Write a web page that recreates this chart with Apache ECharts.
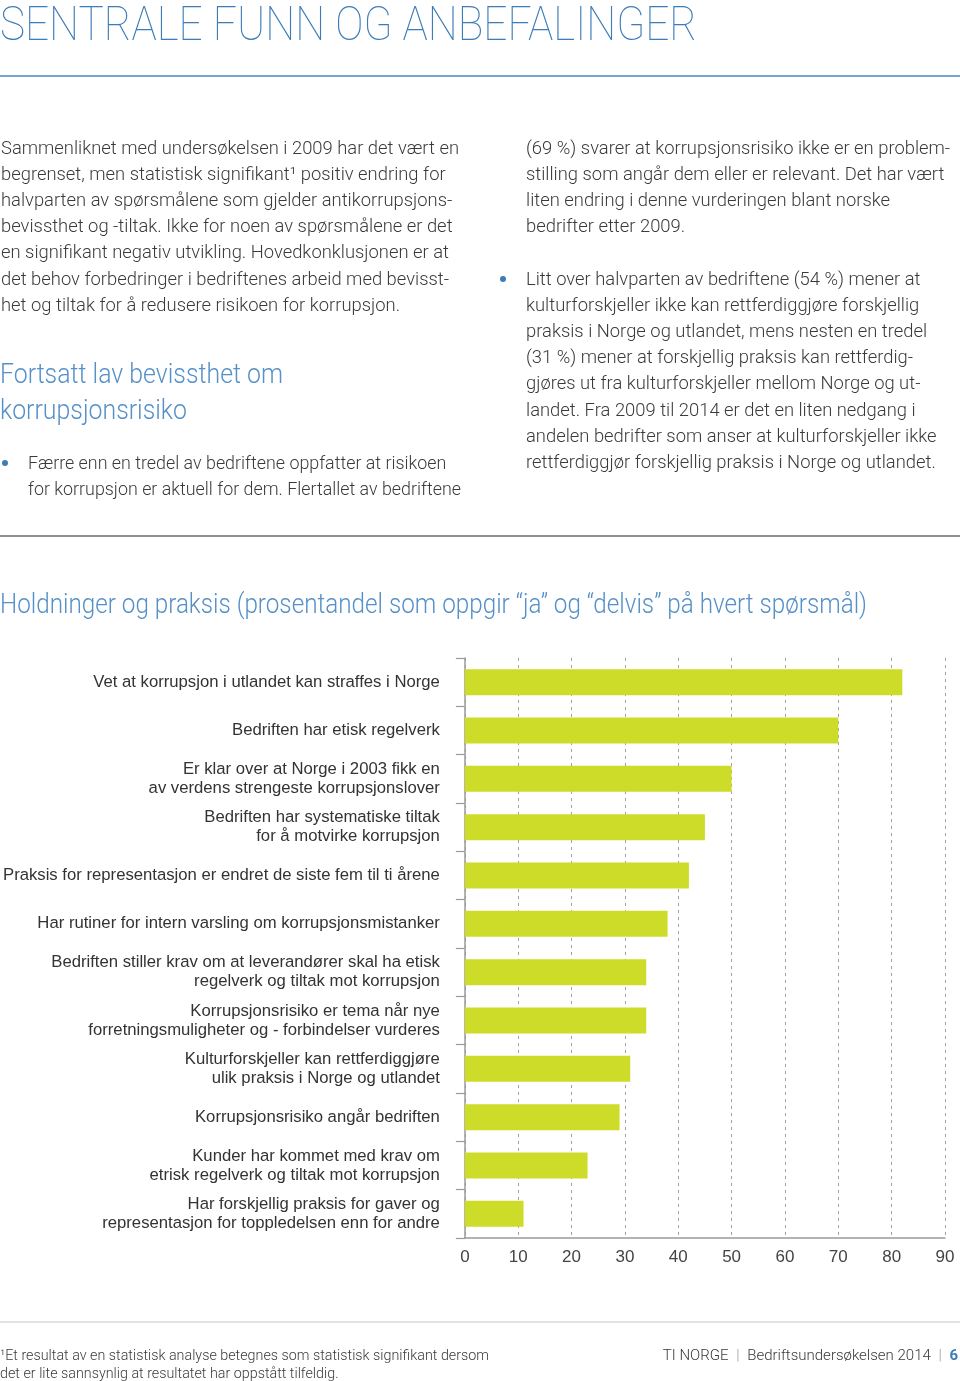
<!DOCTYPE html>
<html><head><meta charset="utf-8">
<script src="https://cdn.jsdelivr.net/npm/echarts@6/dist/echarts.min.js"></script>
<style>html,body{margin:0;padding:0;background:#fff}#c{width:960px;height:1381px}</style>
</head><body><div id="c"></div>
<script>
// ---- chart data ----
const categories = [
  'Vet at korrupsjon i utlandet kan straffes i Norge',
  'Bedriften har etisk regelverk',
  'Er klar over at Norge i 2003 fikk en\nav verdens strengeste korrupsjonslover',
  'Bedriften har systematiske tiltak\nfor å motvirke korrupsjon',
  'Praksis for representasjon er endret de siste fem til ti årene',
  'Har rutiner for intern varsling om korrupsjonsmistanker',
  'Bedriften stiller krav om at leverandører skal ha etisk\nregelverk og tiltak mot korrupsjon',
  'Korrupsjonsrisiko er tema når nye\nforretningsmuligheter og - forbindelser vurderes',
  'Kulturforskjeller kan rettferdiggjøre\nulik praksis i Norge og utlandet',
  'Korrupsjonsrisiko angår bedriften',
  'Kunder har kommet med krav om\netrisk regelverk og tiltak mot korrupsjon',
  'Har forskjellig praksis for gaver og\nrepresentasjon for toppledelsen enn for andre'
];
const values = [82, 70, 50, 45, 42, 38, 34, 34, 31, 29, 23, 11];
const axisMin = 0, axisMax = 90, axisStep = 10;

// ---- page text ----
const pageTitle = 'SENTRALE FUNN OG ANBEFALINGER';
const leftPara = [
  'Sammenliknet med undersøkelsen i 2009 har det vært en',
  'begrenset, men statistisk signifikant¹ positiv endring for',
  'halvparten av spørsmålene som gjelder antikorrupsjons-',
  'bevissthet og -tiltak. Ikke for noen av spørsmålene er det',
  'en signifikant negativ utvikling. Hovedkonklusjonen er at',
  'det behov forbedringer i bedriftenes arbeid med bevisst-',
  'het og tiltak for å redusere risikoen for korrupsjon.'
];
const subHead = ['Fortsatt lav bevissthet om', 'korrupsjonsrisiko'];
const leftBullet = [
  'Færre enn en tredel av bedriftene oppfatter at risikoen',
  'for korrupsjon er aktuell for dem. Flertallet av bedriftene'
];
const rightPara = [
  '(69 %) svarer at korrupsjonsrisiko ikke er en problem-',
  'stilling som angår dem eller er relevant. Det har vært',
  'liten endring i denne vurderingen blant norske',
  'bedrifter etter 2009.'
];
const rightBullet = [
  'Litt over halvparten av bedriftene (54 %) mener at',
  'kulturforskjeller ikke kan rettferdiggjøre forskjellig',
  'praksis i Norge og utlandet, mens nesten en tredel',
  '(31 %) mener at forskjellig praksis kan rettferdig-',
  'gjøres ut fra kulturforskjeller mellom Norge og ut-',
  'landet. Fra 2009 til 2014 er det en liten nedgang i',
  'andelen bedrifter som anser at kulturforskjeller ikke',
  'rettferdiggjør forskjellig praksis i Norge og utlandet.'
];
const chartTitle = 'Holdninger og praksis (prosentandel som oppgir \u201cja\u201d og \u201cdelvis\u201d på hvert spørsmål)';
const footnote = [
  '¹Et resultat av en statistisk analyse betegnes som statistisk signifikant dersom',
  'det er lite sannsynlig at resultatet har oppstått tilfeldig.'
];

// ---- helpers ----
const mctx = document.createElement('canvas').getContext('2d');
function tw(text, font) { mctx.font = font; return mctx.measureText(text).width; }

const BLUE = '#3d7cb8';
const LBLUE = '#5590c8';
const TXT = '#3a3a3a';
const bodyFont = '300 18px Roboto, "Liberation Sans", sans-serif';
const bodySX = 458 / tw(leftPara[0], bodyFont);
const bulletScale = (461 - 28) / tw(leftBullet[1], bodyFont);
const titleFont = '100 48px Roboto, "Open Sans", sans-serif';
const titleSX = 697 / tw(pageTitle, titleFont);
const subFont = '300 28px Roboto, "Open Sans", sans-serif';
const subSX = 283 / tw(subHead[0], subFont);
const ctFont = '300 27px Roboto, "Open Sans", sans-serif';
const ctSX = 867 / tw(chartTitle, ctFont);
const footFont = '300 14.5px Roboto, "Liberation Sans", sans-serif';
const footSX = 489 / tw(footnote[0], footFont);
const footRFont = '300 15px Roboto, "Liberation Sans", sans-serif';

function txt(text, x, y, font, fill, sx, align) {
  return { type: 'text', x: x, y: y, scaleX: sx || 1, silent: true,
    style: { text: text, font: font, fill: fill, align: align || 'left', verticalAlign: 'middle' } };
}
const g = [];
g.push(txt(pageTitle, 0, 28, titleFont, BLUE, titleSX));
g.push({ type: 'line', silent: true, shape: { x1: 0, y1: 76, x2: 960, y2: 76 }, style: { stroke: '#4a86c0', lineWidth: 1.5 } });
const lh = 26.2;
leftPara.forEach((t, i) => g.push(txt(t, 1, 149 + i * lh, bodyFont, TXT, bodySX)));
subHead.forEach((t, i) => g.push(txt(t, 0, 376 + i * 36, subFont, LBLUE, subSX)));
g.push({ type: 'circle', silent: true, shape: { cx: 5, cy: 463, r: 3 }, style: { fill: BLUE } });
leftBullet.forEach((t, i) => g.push(txt(t, 28, 464 + i * lh, bodyFont, TXT, bulletScale)));
rightPara.forEach((t, i) => g.push(txt(t, 526, 149 + i * lh, bodyFont, TXT, bodySX)));
g.push({ type: 'circle', silent: true, shape: { cx: 503, cy: 279, r: 3 }, style: { fill: BLUE } });
rightBullet.forEach((t, i) => g.push(txt(t, 526, 280 + i * lh, bodyFont, TXT, bodySX)));
g.push({ type: 'line', silent: true, shape: { x1: 0, y1: 536, x2: 960, y2: 536 }, style: { stroke: '#6a6a6a', lineWidth: 1.5 } });
g.push(txt(chartTitle, 0, 606, ctFont, LBLUE, ctSX));
g.push({ type: 'line', silent: true, shape: { x1: 0, y1: 1322, x2: 960, y2: 1322 }, style: { stroke: '#c8c8c8', lineWidth: 1 } });
footnote.forEach((t, i) => g.push(txt(t, 0, 1356 + i * 18, footFont, TXT, footSX)));
g.push({ type: 'text', x: 958, y: 1356, silent: true, scaleX: 1,
  style: { text: 'TI NORGE {p||} Bedriftsundersøkelsen 2014 {p||} {n|6}', font: footRFont, fill: TXT,
    align: 'right', verticalAlign: 'middle',
    rich: { p: { fill: '#999', font: footRFont, padding: [0, 4] }, n: { fill: BLUE, font: 'bold 15px Roboto, "Liberation Sans", sans-serif' } } } });

// chart label font fitting
const labFontBase = '16px "Liberation Sans", sans-serif';
const labFS = 16 * 437 / tw('Praksis for representasjon er endret de siste fem til ti årene', labFontBase);

const chart = echarts.init(document.getElementById('c'), null, { renderer: 'canvas' });
chart.setOption({
  animation: false,
  backgroundColor: '#fff',
  grid: { left: 464, right: 15, top: 658, bottom: 143, containLabel: false },
  xAxis: {
    type: 'value', min: axisMin, max: axisMax, interval: axisStep,
    axisLine: { show: true, lineStyle: { color: '#9a9a9a', width: 1.5 } },
    axisTick: { show: false },
    splitLine: { show: true, lineStyle: { color: '#a0a0a0', type: [3, 4], width: 1 } },
    axisLabel: { color: '#444', fontSize: 17, margin: 11, fontFamily: '"Liberation Sans", sans-serif' }
  },
  yAxis: {
    type: 'category', inverse: true, data: categories,
    axisLine: { show: true, lineStyle: { color: '#9a9a9a', width: 1.5 } },
    axisTick: { show: true, length: 9, inside: false, lineStyle: { color: '#9a9a9a', width: 1.2 } },
    splitLine: { show: false },
    axisLabel: { color: '#333', fontSize: labFS, lineHeight: 19, margin: 25, align: 'right',
      fontFamily: '"Liberation Sans", sans-serif' }
  },
  series: [{
    type: 'bar', data: values, barWidth: 26,
    itemStyle: { color: '#cddc29' }, silent: true
  }],
  graphic: { elements: g }
});
</script>
</body></html>
